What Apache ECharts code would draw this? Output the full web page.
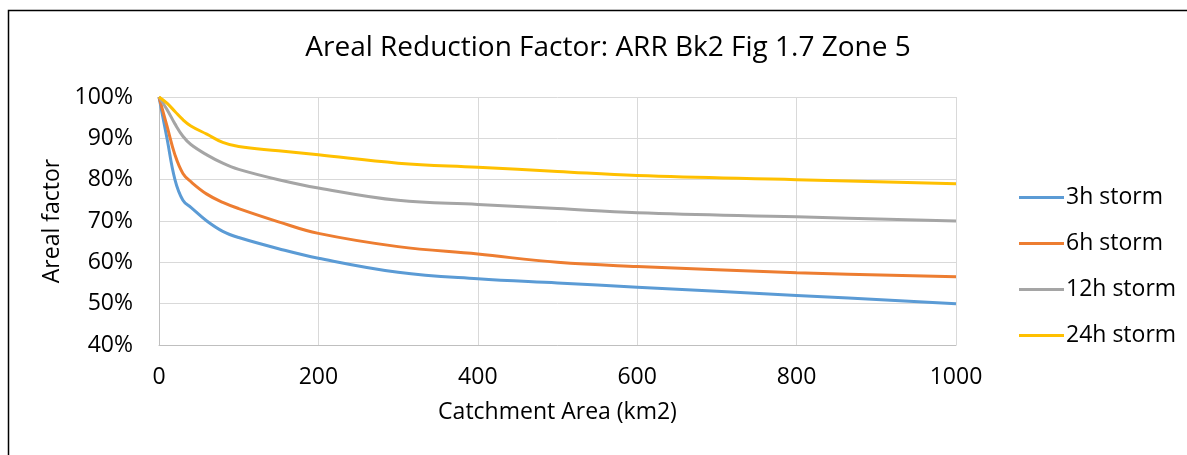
<!DOCTYPE html>
<html><head><meta charset="utf-8">
<script src="https://cdn.jsdelivr.net/npm/echarts@6/dist/echarts.min.js"></script>
<style>html,body{margin:0;padding:0;background:#fff}#c{width:1187px;height:455px}</style>
</head><body><div id="c"></div>
<script>
const areas = [0, 10, 20, 30, 40, 60, 80, 100, 150, 200, 300, 400, 500, 600, 800, 1000];
const s3h  = [100, 90, 80, 75, 73.3, 70, 67.5, 66, 63.3, 61, 57.6, 56, 55, 54, 52, 50];
const s6h  = [100, 93, 86, 81.5, 79.5, 76.5, 74.5, 73, 69.8, 67, 63.8, 62, 60, 59, 57.5, 56.5];
const s12h = [100, 97, 93.5, 90.5, 88.5, 86, 84, 82.5, 80, 78, 75, 74, 73, 72, 71, 70];
const s24h = [100, 98.5, 96.5, 94.5, 93, 91, 89, 88, 87, 86, 84, 83, 82, 81, 80, 79];
const seriesNames = ['3h storm', '6h storm', '12h storm', '24h storm'];
const colors = ['#5b9bd5', '#ed7d31', '#a5a5a5', '#ffc000'];
const font = '"Open Sans", sans-serif';
const all = [s3h, s6h, s12h, s24h];
const chart = echarts.init(document.getElementById('c'));
chart.setOption({
  animation: false,
  backgroundColor: '#fff',
  title: { text: 'Areal Reduction Factor: ARR Bk2 Fig 1.7 Zone 5', left: 603, top: 29, textAlign: 'center',
    textStyle: { fontFamily: font, fontSize: 28, fontWeight: 'normal', color: '#000' } },
  graphic: [{ type: 'rect', shape: { x: 8.5, y: 10.5, width: 1300, height: 600 }, style: { fill: 'none', stroke: '#000', lineWidth: 1.5 } }],
  legend: { orient: 'vertical', left: 1014, top: 181, itemGap: 23, itemWidth: 45, itemHeight: 3,
    icon: 'rect', textStyle: { fontFamily: font, fontSize: 23, color: '#000', padding: [0,0,0,-3] },
    data: seriesNames },
  grid: { left: 159, top: 97, right: 231, bottom: 110 },
  xAxis: { type: 'value', min: 0, max: 1000, interval: 200,
    name: 'Catchment Area (km2)', nameLocation: 'middle', nameGap: 56,
    nameTextStyle: { fontFamily: font, fontSize: 23, color: '#000' },
    axisLine: { lineStyle: { color: '#bfbfbf', width: 1 } }, axisTick: { show: false },
    axisLabel: { fontFamily: font, fontSize: 23, color: '#000', margin: 21, formatter: v => String(v) },
    splitLine: { lineStyle: { color: '#d9d9d9', width: 1 } } },
  yAxis: { type: 'value', min: 40, max: 100, interval: 10,
    name: 'Areal factor', nameLocation: 'middle', nameGap: 90, nameRotate: 90,
    nameTextStyle: { fontFamily: font, fontSize: 23, color: '#000' },
    axisLine: { show: true, lineStyle: { color: '#bfbfbf', width: 1 } }, axisTick: { show: false },
    axisLabel: { fontFamily: font, fontSize: 23, color: '#000', margin: 26, formatter: v => v + '%' },
    splitLine: { lineStyle: { color: '#d9d9d9', width: 1 } } },
  series: all.map((d, i) => ({
    name: seriesNames[i], type: 'line', data: areas.map((a, j) => [a, d[j]]),
    smooth: 0.4, showSymbol: false, symbol: 'none',
    lineStyle: { color: colors[i], width: 3 }, itemStyle: { color: colors[i] }
  }))
});
</script></body></html>
